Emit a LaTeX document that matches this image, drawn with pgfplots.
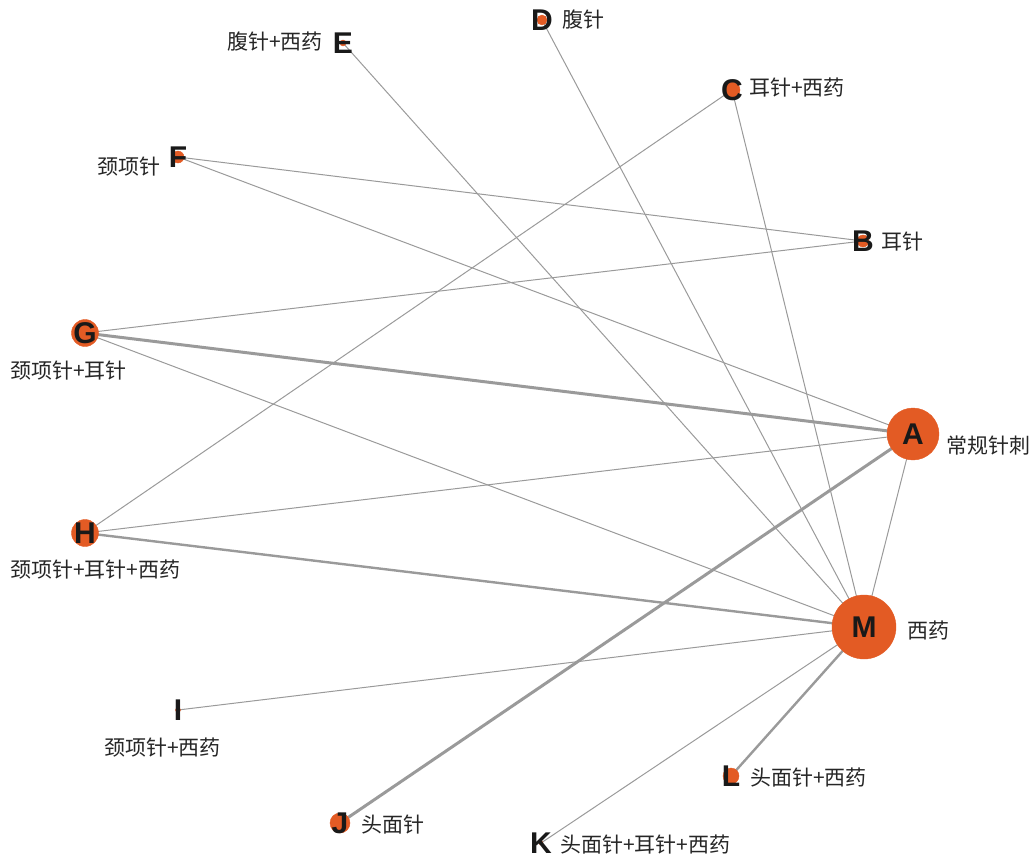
\documentclass[border=0pt]{standalone}
\usepackage{pgfplots}
\pgfplotsset{compat=1.18}
\usepackage{pgfplotstable}
\usepackage{fontspec}
\setmainfont{Liberation Sans}
\newfontfamily\cjk{Noto Sans CJK SC}
\definecolor{nodeor}{HTML}{E35B24}
\definecolor{edgegr}{HTML}{9A9A9A}
\pgfplotstableread{
x y r lab
913 434 26 A
863 241 6 B
732 90 8 C
542 20 5 D
343 43 3 E
178 157 6 F
85 333 13.5 G
85 533 13.5 H
178 710 2.5 I
340 823 10 J
541 843 2 K
731 776 8 L
864 627 32 M
}\nodes
\begin{document}
\begin{tikzpicture}
\begin{axis}[
  width=1031pt, height=859pt, scale only axis,
  xmin=0, xmax=1031, ymin=0, ymax=859, y dir=reverse,
  hide axis, clip=false,
]
\addplot[draw=none] coordinates {(0,0) (1031,859)};
% thin edges
\pgfplotsset{thin edge/.style={edgegr, line width=1pt, no marks}}
\addplot[thin edge] coordinates {(343,43) (864,627)};   % E-M
\addplot[thin edge] coordinates {(542,20) (864,627)};   % D-M
\addplot[thin edge] coordinates {(732,90) (864,627)};   % C-M
\addplot[thin edge] coordinates {(732,90) (85,533)};    % C-H
\addplot[thin edge] coordinates {(178,157) (863,241)};  % F-B
\addplot[thin edge] coordinates {(178,157) (913,434)};  % F-A
\addplot[thin edge] coordinates {(85,333) (863,241)};   % G-B
\addplot[thin edge] coordinates {(85,333) (864,627)};   % G-M
\addplot[thin edge] coordinates {(85,533) (913,434)};   % H-A
\addplot[thin edge] coordinates {(178,710) (864,627)};  % I-M
\addplot[thin edge] coordinates {(541,843) (864,627)};  % K-M
\addplot[thin edge] coordinates {(913,434) (864,627)};  % A-M
% thick edges
\addplot[edgegr, line width=3pt, no marks] coordinates {(85,333) (913,434)};  % G-A
\addplot[edgegr, line width=3pt, no marks] coordinates {(340,823) (913,434)}; % J-A
\addplot[edgegr, line width=2.4pt, no marks] coordinates {(85,533) (864,627)}; % H-M
\addplot[edgegr, line width=2.4pt, no marks] coordinates {(731,776) (864,627)}; % L-M
% nodes
\addplot[scatter, only marks, mark=*, draw=none, fill=nodeor,
  scatter/use mapped color={draw=nodeor, fill=nodeor},
  visualization depends on={\thisrow{r} \as \rad},
  scatter/@pre marker code/.append style={/tikz/mark size=\rad}]
  table[x=x, y=y] {\nodes};
% letters
\addplot[only marks, mark=none,
  nodes near coords={\fontsize{30}{30}\selectfont\bfseries\pgfplotspointmeta},
  point meta=explicit symbolic,
  every node near coord/.append style={anchor=center, text=black!90, inner sep=0pt}]
  table[x=x, y=y, meta=lab] {\nodes};
% labels
\begin{scope}[every node/.style={font=\cjk\fontsize{21}{24}\selectfont, text=black!85, inner sep=0pt}]
\node[anchor=east] at (axis cs:323,42) {腹针+西药};
\node[anchor=west] at (axis cs:562,20) {腹针};
\node[anchor=west] at (axis cs:749,88) {耳针+西药};
\node[anchor=east] at (axis cs:161,167) {颈项针};
\node[anchor=west] at (axis cs:881,242) {耳针};
\node[anchor=west] at (axis cs:10,371) {颈项针+耳针};
\node[anchor=west] at (axis cs:946,446) {常规针刺};
\node[anchor=west] at (axis cs:10,570) {颈项针+耳针+西药};
\node[anchor=west] at (axis cs:907,630) {西药};
\node[anchor=west] at (axis cs:104,748) {颈项针+西药};
\node[anchor=west] at (axis cs:750,778) {头面针+西药};
\node[anchor=west] at (axis cs:361,825) {头面针};
\node[anchor=west] at (axis cs:560,845) {头面针+耳针+西药};
\end{scope}
\end{axis}
\end{tikzpicture}
\end{document}
